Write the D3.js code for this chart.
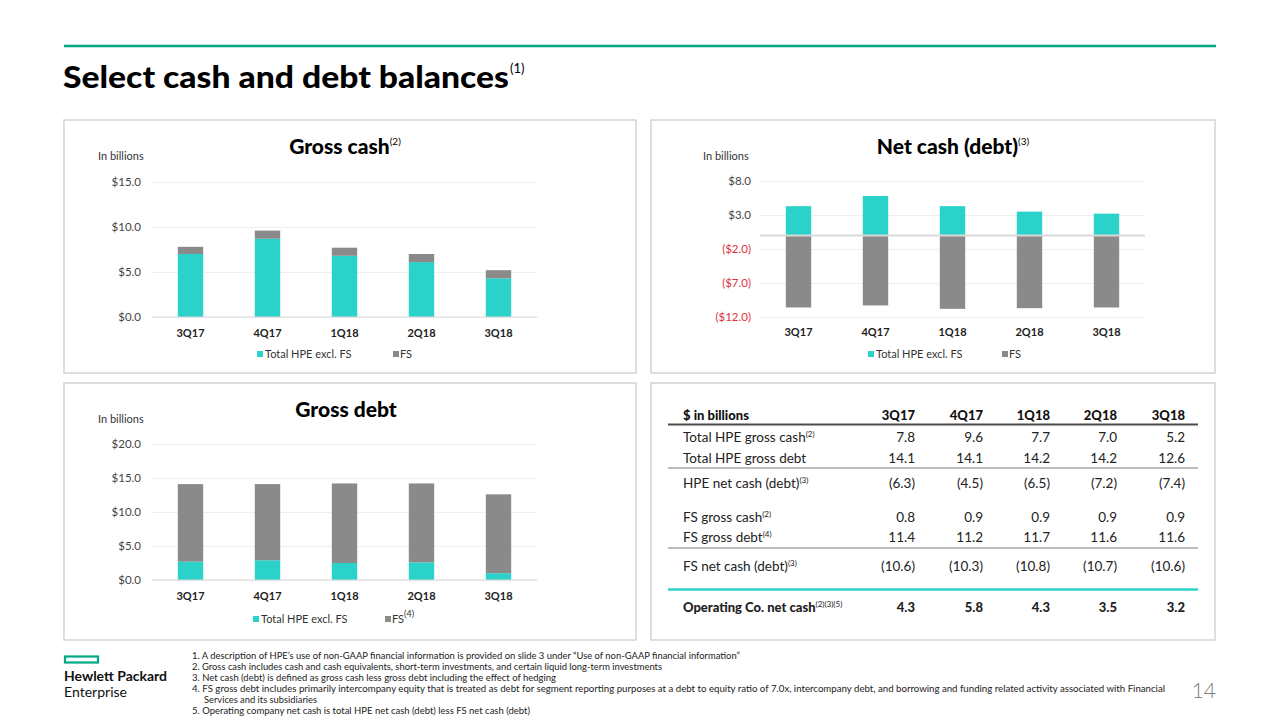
<!DOCTYPE html>
<html>
<head>
<meta charset="utf-8">
<script src="https://cdn.jsdelivr.net/npm/d3@7/dist/d3.min.js"></script>
<style>
  html, body { margin: 0; padding: 0; background: #fff; }
  svg { display: block; font-family: Lato, "Open Sans", sans-serif; }
</style>
</head>
<body>
<svg id="chart" width="1280" height="720"></svg>
<script>
// ---------- DATA ----------
const quarters = ["3Q17", "4Q17", "1Q18", "2Q18", "3Q18"];

// Gross cash chart (stacked)
const grossCashHPE = [7.0, 8.7, 6.8, 6.1, 4.3];
const grossCashFS  = [0.8, 0.9, 0.9, 0.9, 0.9];
const grossCashTicks = [0, 5, 10, 15];

// Net cash (debt) chart
const netCashHPE = [4.3, 5.8, 4.3, 3.5, 3.2];
const netCashFS  = [-10.6, -10.3, -10.8, -10.7, -10.6];
const netCashTicks = [-12, -7, -2, 3, 8];

// Gross debt chart (stacked)
const grossDebtHPE = [2.7, 2.9, 2.5, 2.6, 1.0];
const grossDebtFS  = [11.4, 11.2, 11.7, 11.6, 11.6];
const grossDebtTicks = [0, 5, 10, 15, 20];

// Table rows
const totalGrossCash = [7.8, 9.6, 7.7, 7.0, 5.2];
const totalGrossDebt = [14.1, 14.1, 14.2, 14.2, 12.6];
const hpeNetCash     = [-6.3, -4.5, -6.5, -7.2, -7.4];
const fsGrossCash    = [0.8, 0.9, 0.9, 0.9, 0.9];
const fsGrossDebt    = [11.4, 11.2, 11.7, 11.6, 11.6];
const fsNetCash      = [-10.6, -10.3, -10.8, -10.7, -10.6];
const opNetCash      = [4.3, 5.8, 4.3, 3.5, 3.2];

const footnotes = [
  "1.  A description of HPE\u2019s use of non-GAAP financial information is provided on slide 3 under \u201cUse of non-GAAP financial information\u201d",
  "2.  Gross cash includes cash and cash equivalents, short-term investments, and certain liquid long-term investments",
  "3.  Net cash (debt) is defined as gross cash less gross debt including the effect of hedging",
  "4.  FS gross debt includes primarily intercompany equity that is treated as debt for segment reporting purposes at a debt to equity ratio of 7.0x, intercompany debt, and borrowing and funding related activity associated with Financial",
  "Services and its subsidiaries",
  "5.  Operating company net cash is total HPE net cash (debt) less FS net cash (debt)"
];
const footnoteX = [192, 192, 192, 192, 204, 192];
const footnoteWidths = [548, 470, 364, 973, 113, 338];

// ---------- STYLE ----------
const TEAL = "#2ad2c9";
const GRAY = "#8a8a8a";
const GREEN = "#01a982";
const RED = "#e0303b";

const svg = d3.select("#chart");

// top line & title
svg.append("line").attr("x1", 64).attr("x2", 1216).attr("y1", 46).attr("y2", 46)
  .attr("stroke", GREEN).attr("stroke-width", 2.5);
const title = svg.append("text").attr("x", 63).attr("y", 88)
  .attr("font-size", 31).attr("font-weight", 900).attr("fill", "#000")
  .attr("font-family", "Lato, Roboto, sans-serif");
title.append("tspan").text("Select cash and debt balances").attr("textLength", 446).attr("lengthAdjust", "spacingAndGlyphs");
title.append("tspan").text("(1)").attr("font-size", 13).attr("font-weight", 400).attr("dy", -15).attr("dx", 1);

// panels
const panels = [
  [64, 120, 572, 253],
  [651, 120, 564, 253],
  [64, 383, 572, 257],
  [651, 383, 564, 257]
];
panels.forEach(p => svg.append("rect").attr("x", p[0]).attr("y", p[1]).attr("width", p[2]).attr("height", p[3])
  .attr("fill", "none").attr("stroke", "#d4d4d4").attr("stroke-width", 1.5));

function fmtTick(v) {
  const s = "$" + Math.abs(v).toFixed(1);
  return v < 0 ? "(" + s + ")" : s;
}

function barChart(cfg) {
  const g = svg.append("g");
  const x = d3.scaleBand().domain(quarters).range([cfg.x0, cfg.x1]).paddingInner(0.67).paddingOuter(0.335);
  const y = d3.scaleLinear().domain(cfg.domain).range([cfg.yb, cfg.yt]);

  // title
  const t = g.append("text").attr("x", cfg.titleX).attr("y", cfg.titleY).attr("text-anchor", "middle")
    .attr("font-size", 21).attr("font-weight", 900).attr("fill", "#000");
  t.append("tspan").text(cfg.title);
  if (cfg.titleSup) t.append("tspan").text(cfg.titleSup).attr("font-size", 10).attr("font-weight", 400).attr("dy", -9);

  g.append("text").attr("x", cfg.ibX).attr("y", cfg.ibY).text("In billions")
    .attr("font-size", 11).attr("fill", "#333");

  // gridlines + tick labels
  const axis = d3.axisLeft(y).tickValues(cfg.ticks).tickFormat(fmtTick)
    .tickSize(-(cfg.x1 - cfg.x0)).tickPadding(cfg.x0 - cfg.labelRight);
  const ag = g.append("g").attr("transform", `translate(${cfg.x0},0)`).call(axis);
  ag.select(".domain").remove();
  ag.selectAll(".tick line").attr("stroke", "#efefef").attr("stroke-width", 1);
  ag.selectAll(".tick text").attr("font-size", 11.5).attr("font-family", "Lato, sans-serif")
    .attr("fill", d => d < 0 ? RED : "#444");

  // bars
  quarters.forEach((q, i) => {
    const a = cfg.s1[i], b = cfg.s2[i];
    if (cfg.stacked) {
      g.append("rect").attr("x", x(q)).attr("width", x.bandwidth())
        .attr("y", y(a)).attr("height", y(0) - y(a)).attr("fill", TEAL);
      g.append("rect").attr("x", x(q)).attr("width", x.bandwidth())
        .attr("y", y(a + b)).attr("height", y(a) - y(a + b)).attr("fill", GRAY);
    } else {
      g.append("rect").attr("x", x(q)).attr("width", x.bandwidth())
        .attr("y", y(a)).attr("height", y(0) - y(a)).attr("fill", TEAL);
      g.append("rect").attr("x", x(q)).attr("width", x.bandwidth())
        .attr("y", y(0)).attr("height", y(b) - y(0)).attr("fill", GRAY);
    }
  });
  // zero line
  g.append("line").attr("x1", cfg.x0).attr("x2", cfg.x1).attr("y1", y(0)).attr("y2", y(0))
    .attr("stroke", "#d9d9d9").attr("stroke-width", cfg.stacked ? 1.2 : 2);

  // category labels
  const xa = d3.axisBottom(x).tickSize(0).tickPadding(0);
  const xg = g.append("g").attr("transform", `translate(0,${cfg.catY})`).call(xa);
  xg.select(".domain").remove();
  xg.selectAll(".tick text").attr("font-size", 11).attr("font-weight", 700).attr("fill", "#222")
    .attr("dy", 0).attr("font-family", "Lato, sans-serif");

  // legend
  g.append("rect").attr("x", cfg.leg1).attr("y", cfg.legY - 7).attr("width", 6).attr("height", 6).attr("fill", TEAL);
  g.append("text").attr("x", cfg.leg1 + 8).attr("y", cfg.legY).text("Total HPE excl. FS")
    .attr("font-size", 11).attr("fill", "#333");
  g.append("rect").attr("x", cfg.leg2).attr("y", cfg.legY - 7).attr("width", 6).attr("height", 6).attr("fill", GRAY);
  const l2 = g.append("text").attr("x", cfg.leg2 + 7).attr("y", cfg.legY).attr("font-size", 11).attr("fill", "#333");
  l2.append("tspan").text("FS");
  if (cfg.legSup) l2.append("tspan").text(cfg.legSup).attr("font-size", 9).attr("dy", -6);
}

barChart({
  title: "Gross cash", titleSup: "(2)", titleX: 345, titleY: 154,
  ibX: 98, ibY: 160,
  x0: 152, x1: 537, yt: 182, yb: 317, domain: [0, 15], ticks: grossCashTicks, labelRight: 141,
  s1: grossCashHPE, s2: grossCashFS, stacked: true,
  catY: 337, legY: 358, leg1: 257, leg2: 393
});
barChart({
  title: "Net cash (debt)", titleSup: "(3)", titleX: 953, titleY: 154,
  ibX: 703, ibY: 160,
  x0: 760, x1: 1145, yt: 181, yb: 317, domain: [-12, 8], ticks: netCashTicks, labelRight: 751,
  s1: netCashHPE, s2: netCashFS, stacked: false,
  catY: 336, legY: 358, leg1: 868, leg2: 1002
});
barChart({
  title: "Gross debt", titleSup: null, titleX: 346, titleY: 417,
  ibX: 98, ibY: 423,
  x0: 152, x1: 537, yt: 444, yb: 580, domain: [0, 20], ticks: grossDebtTicks, labelRight: 141,
  s1: grossDebtHPE, s2: grossDebtFS, stacked: true,
  catY: 600, legY: 623, leg1: 253, leg2: 385, legSup: "(4)"
});

// ---------- TABLE ----------
const colRight = [915, 983, 1050, 1117, 1185];
const tbl = svg.append("g").attr("font-family", "Lato, sans-serif");
const fmtV = v => v < 0 ? "(" + Math.abs(v).toFixed(1) + ")" : v.toFixed(1);

// header
tbl.append("text").attr("x", 683).attr("y", 420).text("$ in billions")
  .attr("font-size", 13).attr("font-weight", 900).attr("fill", "#111");
quarters.forEach((q, i) => tbl.append("text").attr("x", colRight[i]).attr("y", 420)
  .attr("text-anchor", "end").text(q).attr("font-size", 13).attr("font-weight", 900).attr("fill", "#111"));
tbl.append("line").attr("x1", 668).attr("x2", 1198).attr("y1", 424.5).attr("y2", 424.5)
  .attr("stroke", "#4a4a4a").attr("stroke-width", 2);

const rows = [
  { label: "Total HPE gross cash", sup: "(2)", vals: totalGrossCash, y: 442 },
  { label: "Total HPE gross debt", sup: null, vals: totalGrossDebt, y: 463 },
  { label: "HPE net cash (debt)", sup: "(3)", vals: hpeNetCash, y: 488 },
  { label: "FS gross cash", sup: "(2)", vals: fsGrossCash, y: 522 },
  { label: "FS gross debt", sup: "(4)", vals: fsGrossDebt, y: 542 },
  { label: "FS net cash (debt)", sup: "(3)", vals: fsNetCash, y: 571 },
  { label: "Operating Co. net cash", sup: "(2)(3)(5)", vals: opNetCash, y: 612, bold: true }
];
rows.forEach(r => {
  const t = tbl.append("text").attr("x", 683).attr("y", r.y).attr("font-size", r.bold ? 13 : 13.5)
    .attr("font-weight", r.bold ? 900 : 400).attr("fill", "#222");
  t.append("tspan").text(r.label);
  if (r.sup) t.append("tspan").text(r.sup).attr("font-size", 8).attr("font-weight", 400).attr("dy", -5);
  r.vals.forEach((v, i) => tbl.append("text").attr("x", colRight[i]).attr("y", r.y).attr("text-anchor", "end")
    .text(fmtV(v)).attr("font-size", r.bold ? 13 : 13.5).attr("font-weight", r.bold ? 900 : 400).attr("fill", "#222"));
});
[468, 548].forEach(yy => tbl.append("line").attr("x1", 668).attr("x2", 1198).attr("y1", yy).attr("y2", yy)
  .attr("stroke", "#7a7a7a").attr("stroke-width", 1.2));
tbl.append("line").attr("x1", 668).attr("x2", 1198).attr("y1", 589.5).attr("y2", 589.5)
  .attr("stroke", TEAL).attr("stroke-width", 2.5);

// ---------- FOOTER ----------
svg.append("rect").attr("x", 65).attr("y", 656.5).attr("width", 33).attr("height", 6)
  .attr("fill", "none").attr("stroke", GREEN).attr("stroke-width", 2.2);
svg.append("text").attr("x", 64).attr("y", 681).text("Hewlett Packard")
  .attr("font-size", 13).attr("font-weight", 700).attr("fill", "#111")
  .attr("textLength", 103).attr("lengthAdjust", "spacingAndGlyphs");
svg.append("text").attr("x", 64).attr("y", 697).text("Enterprise")
  .attr("font-size", 13).attr("font-weight", 400).attr("fill", "#111")
  .attr("textLength", 63).attr("lengthAdjust", "spacingAndGlyphs");

footnotes.forEach((f, i) => {
  svg.append("text").attr("x", footnoteX[i]).attr("y", 659 + i * 11).text(f)
    .attr("font-size", 9).attr("fill", "#222")
    .attr("textLength", footnoteWidths[i]).attr("lengthAdjust", "spacingAndGlyphs");
});

svg.append("text").attr("x", 1216).attr("y", 698).attr("text-anchor", "end").text("14")
  .attr("font-size", 21).attr("font-weight", 300).attr("fill", "#7a7a7a");
</script>
</body>
</html>
